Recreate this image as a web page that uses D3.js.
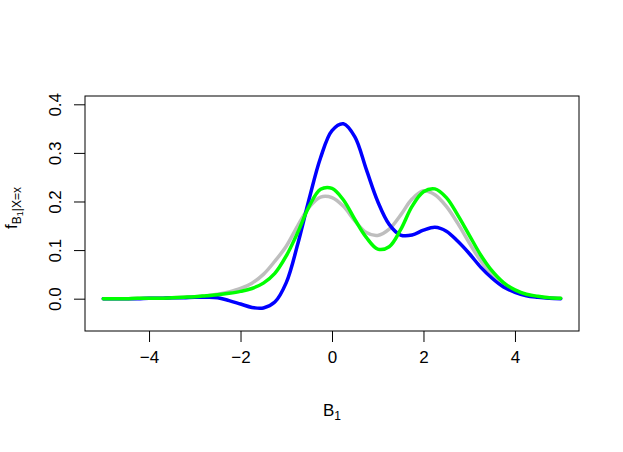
<!DOCTYPE html>
<html>
<head>
<meta charset="utf-8">
<script src="https://cdn.jsdelivr.net/npm/d3@7"></script>
<style>
  html, body { margin: 0; padding: 0; background: #fff; }
  svg { display: block; }
  text { font-family: "Liberation Sans", Arial, Helvetica, sans-serif; fill: #000; }
</style>
</head>
<body>
<svg id="chart" width="623" height="452"></svg>
<script>
const xValues = [-5, -4.75, -4.5, -4.25, -4, -3.75, -3.5, -3.25, -3, -2.75, -2.5, -2.25, -2, -1.75, -1.5, -1.25, -1, -0.75, -0.5, -0.25, 0, 0.25, 0.5, 0.75, 1, 1.25, 1.5, 1.75, 2, 2.25, 2.5, 2.75, 3, 3.25, 3.5, 3.75, 4, 4.25, 4.5, 4.75, 5];

const grayValues = [0.000, 0.000, 0.000, 0.001, 0.001, 0.001, 0.002, 0.003, 0.004, 0.006, 0.009, 0.014, 0.021, 0.032, 0.050, 0.077, 0.108, 0.150, 0.188, 0.209, 0.208, 0.190, 0.160, 0.136, 0.130, 0.143, 0.172, 0.205, 0.222, 0.214, 0.190, 0.155, 0.115, 0.078, 0.049, 0.029, 0.016, 0.008, 0.004, 0.002, 0.001];

const blueValues = [0.000, 0.000, 0.000, 0.000, 0.001, 0.001, 0.002, 0.002, 0.003, 0.003, 0.002, -0.004, -0.011, -0.018, -0.019, -0.007, 0.033, 0.112, 0.205, 0.290, 0.346, 0.360, 0.333, 0.266, 0.200, 0.153, 0.131, 0.131, 0.141, 0.147, 0.139, 0.118, 0.093, 0.065, 0.042, 0.024, 0.013, 0.006, 0.003, 0.001, 0.000];

const greenValues = [0.000, 0.000, 0.000, 0.001, 0.001, 0.001, 0.002, 0.003, 0.004, 0.006, 0.008, 0.011, 0.015, 0.021, 0.032, 0.052, 0.088, 0.136, 0.190, 0.225, 0.227, 0.203, 0.163, 0.126, 0.102, 0.107, 0.142, 0.190, 0.220, 0.226, 0.208, 0.172, 0.131, 0.090, 0.057, 0.033, 0.018, 0.009, 0.005, 0.002, 0.001];

const xTicks = [-4, -2, 0, 2, 4];
const yTicks = [0.0, 0.1, 0.2, 0.3, 0.4];
const yTickLabels = ["0.0", "0.1", "0.2", "0.3", "0.4"];

const svg = d3.select("#chart");
const pLeft = 85, pRight = 579, pTop = 96, pBottom = 331;

const x = d3.scaleLinear().domain([-5.4, 5.4]).range([pLeft, pRight]);
const y = d3.scaleLinear().domain([-0.0665, 0.4171]).range([pBottom, pTop]);

const line = d3.line()
  .x(d => x(d[0]))
  .y(d => y(d[1]))
  .curve(d3.curveCatmullRom.alpha(0.5));

const series = [
  { values: grayValues, color: "#BEBEBE" },
  { values: blueValues, color: "#0000FF" },
  { values: greenValues, color: "#00FF00" }
];

series.forEach(s => {
  svg.append("path")
    .datum(xValues.map((v, i) => [v, s.values[i]]))
    .attr("d", line)
    .attr("fill", "none")
    .attr("stroke", s.color)
    .attr("stroke-width", 3.5)
    .attr("stroke-linecap", "round")
    .attr("stroke-linejoin", "round");
});

svg.append("rect")
  .attr("x", pLeft).attr("y", pTop)
  .attr("width", pRight - pLeft).attr("height", pBottom - pTop)
  .attr("fill", "none").attr("stroke", "#000").attr("stroke-width", 1);

const xAxis = d3.axisBottom(x).tickValues(xTicks).tickSize(11).tickPadding(9)
  .tickFormat(d => d < 0 ? "\u2212" + Math.abs(d) : String(d));
const gx = svg.append("g").attr("transform", `translate(0,${pBottom})`).call(xAxis);
gx.select(".domain").remove();
gx.selectAll("text").style("font-size", "17px").style("font-family", "'Liberation Sans', Arial, sans-serif").attr("fill", "#000");
gx.selectAll("line").attr("stroke", "#000");

const yAxis = d3.axisLeft(y).tickValues(yTicks).tickSize(11)
  .tickFormat((d, i) => yTickLabels[i]);
const gy = svg.append("g").attr("transform", `translate(${pLeft},0)`).call(yAxis);
gy.select(".domain").remove();
gy.selectAll("line").attr("stroke", "#000");
gy.selectAll("text")
  .style("font-size", "17px").style("font-family", "'Liberation Sans', Arial, sans-serif")
  .attr("fill", "#000")
  .attr("x", null).attr("dy", null)
  .attr("text-anchor", "middle")
  .attr("transform", "translate(-24,0) rotate(-90)");

const xl = svg.append("text")
  .attr("x", 332).attr("y", 416)
  .attr("text-anchor", "middle")
  .style("font-size", "17px");
xl.append("tspan").text("B");
xl.append("tspan").attr("dy", 4).style("font-size", "12px").text("1");

const yl = svg.append("text")
  .attr("transform", "translate(17,208) rotate(-90)")
  .attr("text-anchor", "middle")
  .style("font-size", "17px");
yl.append("tspan").text("f");
yl.append("tspan").attr("dy", 4).style("font-size", "12px").text("B");
yl.append("tspan").attr("dy", 2).style("font-size", "9px").text("1");
yl.append("tspan").attr("dy", -2).style("font-size", "12px").text("|X=x");
</script>
</body>
</html>
